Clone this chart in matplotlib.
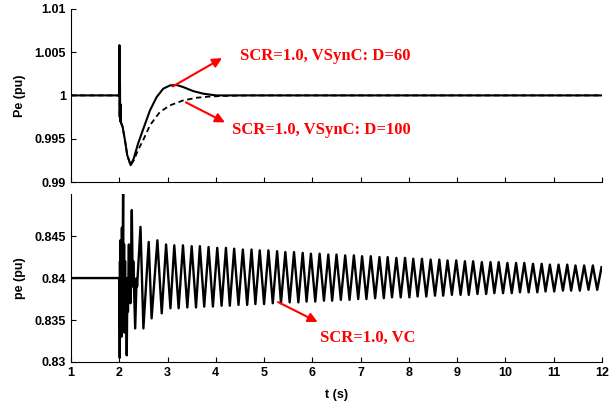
import numpy as np
import matplotlib.pyplot as plt

# top panel: Pe for VSynC, D=60 (solid) and D=100 (dashed)
t_d60 = [1.0, 2.0, 2.004, 2.01, 2.015, 2.02, 2.025, 2.03, 2.04, 2.07, 2.118, 2.166, 2.236, 2.30, 2.39, 2.50,
         2.636, 2.774, 2.91, 3.05, 3.19, 3.325, 3.53, 3.74, 4.0, 12.0]
pe_d60 = [1.0, 1.0, 1.0058, 0.9975, 1.0015, 0.9970, 0.9990, 0.9972, 0.9968, 0.99636, 0.99483, 0.9931, 0.99195,
          0.99272, 0.99445, 0.99617, 0.99827, 0.9998, 1.00077, 1.00115, 1.0012, 1.00096, 1.0005, 1.0002, 1.0, 1.0]

t_d100 = [1.0, 2.0, 2.004, 2.01, 2.015, 2.02, 2.025, 2.03, 2.04, 2.07, 2.118, 2.166, 2.236, 2.30, 2.39, 2.50,
          2.636, 2.84, 3.05, 3.325, 3.6, 3.9, 4.3, 4.7, 12.0]
pe_d100 = [1.0, 1.0, 1.0058, 0.9975, 1.0015, 0.9970, 0.9990, 0.9972, 0.9968, 0.99636, 0.99483, 0.9931, 0.99195,
           0.9925, 0.9937, 0.9949, 0.99655, 0.99808, 0.99885, 0.99942, 0.99973, 0.99988, 0.99996, 1.0, 1.0]

# bottom panel: pe for VC, fault transient then ~5.7 Hz oscillation
t_fault = [1.0, 2.0, 2.005, 2.01, 2.015, 2.02, 2.025, 2.03, 2.04, 2.045, 2.055, 2.065, 2.08, 2.09, 2.10,
           2.11, 2.12, 2.13, 2.14, 2.155, 2.17, 2.18, 2.20, 2.21, 2.22, 2.23, 2.26, 2.28, 2.29, 2.33,
           2.36, 2.37, 2.44, 2.50, 2.61, 2.67, 2.79, 2.88]
pe_fault = [0.84, 0.84, 0.8365, 0.8305, 0.8420, 0.8360, 0.8445, 0.8340, 0.8410, 0.8330, 0.8460, 0.8380,
            0.8501, 0.8370, 0.8440, 0.8335, 0.8420, 0.8350, 0.8400, 0.8308, 0.8400, 0.8360, 0.8440,
            0.8380, 0.8420, 0.8370, 0.8481, 0.8390, 0.8420, 0.8340, 0.8400, 0.8390, 0.8461, 0.8340,
            0.8443, 0.8352, 0.8445, 0.8358]

t_peak = [2.97, 3.14, 3.32, 3.50, 3.67, 3.85, 4.03, 4.21, 4.38, 4.56, 4.74, 4.91, 5.09, 5.27, 5.44,
          5.62, 5.80, 5.97, 6.15, 6.33, 6.50, 6.68, 6.86, 7.03, 7.21, 7.39, 7.56, 7.74, 7.92, 8.09,
          8.27, 8.45, 8.63, 8.80, 8.98, 9.16, 9.33, 9.51, 9.69, 9.86, 10.04, 10.22, 10.39, 10.57,
          10.75, 10.92, 11.10, 11.28, 11.45, 11.63, 11.81]
pe_peak = [0.8440, 0.8439, 0.8439, 0.8438, 0.8438, 0.8437, 0.8436, 0.8436, 0.8435, 0.8434, 0.8434,
           0.8433, 0.8433, 0.8432, 0.8431, 0.8431, 0.8430, 0.8429, 0.8429, 0.8428, 0.8428, 0.8427,
           0.8427, 0.8426, 0.8426, 0.8425, 0.8425, 0.8424, 0.8424, 0.8423, 0.8423, 0.8422, 0.8422,
           0.8421, 0.8421, 0.8420, 0.8420, 0.8419, 0.8419, 0.8419, 0.8418, 0.8418, 0.8418, 0.8417,
           0.8417, 0.8416, 0.8416, 0.8416, 0.8415, 0.8415, 0.8415]
t_trough = [3.06, 3.23, 3.41, 3.59, 3.76, 3.94, 4.12, 4.29, 4.47, 4.65, 4.82, 5.00, 5.18, 5.35, 5.53,
            5.71, 5.88, 6.06, 6.24, 6.41, 6.59, 6.77, 6.95, 7.12, 7.30, 7.48, 7.65, 7.83, 8.01, 8.18,
            8.36, 8.54, 8.71, 8.89, 9.07, 9.24, 9.42, 9.60, 9.77, 9.95, 10.13, 10.30, 10.48, 10.66,
            10.83, 11.01, 11.19, 11.36, 11.54, 11.72, 11.90]
pe_trough = [0.8364, 0.8364, 0.8365, 0.8365, 0.8366, 0.8366, 0.8367, 0.8367, 0.8368, 0.8368, 0.8369,
             0.8369, 0.8370, 0.8370, 0.8371, 0.8371, 0.8372, 0.8372, 0.8373, 0.8373, 0.8374, 0.8374,
             0.8375, 0.8375, 0.8376, 0.8376, 0.8377, 0.8377, 0.8377, 0.8378, 0.8378, 0.8379, 0.8379,
             0.8380, 0.8380, 0.8380, 0.8381, 0.8381, 0.8382, 0.8382, 0.8382, 0.8383, 0.8383, 0.8383,
             0.8384, 0.8384, 0.8385, 0.8385, 0.8385, 0.8386, 0.8386]
t_end = [11.99]
pe_end = [0.8413]

t_vc = np.concatenate([t_fault, np.column_stack([t_peak, t_trough]).ravel(), t_end])
pe_vc = np.concatenate([pe_fault, np.column_stack([pe_peak, pe_trough]).ravel(), pe_end])

xticks = list(range(1, 13))
top_yticks = [0.99, 0.995, 1.0, 1.005, 1.01]
top_ylabels = ['0.99', '0.995', '1', '1.005', '1.01']
bot_yticks = [0.83, 0.835, 0.84, 0.845]
bot_ylabels = ['0.83', '0.835', '0.84', '0.845']

plt.rcParams['font.family'] = ['Liberation Sans', 'DejaVu Sans']
plt.rcParams['font.weight'] = 'bold'

fig = plt.figure(figsize=(6.15, 4.13), dpi=100)
ax1 = fig.add_axes([0.1154, 0.559, 0.8635, 0.42])
ax2 = fig.add_axes([0.1154, 0.1235, 0.8635, 0.4065])

ax1.plot(t_d60, pe_d60, color='black', lw=1.5)
ax1.plot(t_d100, pe_d100, color='black', lw=1.3, linestyle=(0, (3, 2)))
ax2.plot(t_vc, pe_vc, color='black', lw=1.7)

for ax in (ax1, ax2):
    ax.set_xlim(1, 12)
    ax.set_xticks(xticks)
    ax.spines['top'].set_visible(False)
    ax.spines['right'].set_visible(False)
    ax.tick_params(direction='in', length=3.5, labelsize=9)
    for lab in ax.get_xticklabels() + ax.get_yticklabels():
        lab.set_fontweight('bold')

ax1.set_ylim(0.99, 1.01)
ax1.set_yticks(top_yticks)
ax1.set_yticklabels(top_ylabels, fontweight='bold')
ax1.set_xticklabels([])
ax1.set_ylabel('Pe (pu)', fontsize=9, fontweight='bold', labelpad=6)

ax2.set_ylim(0.83, 0.85)
ax2.set_yticks(bot_yticks)
ax2.set_yticklabels(bot_ylabels, fontweight='bold')
ax2.set_xticklabels([str(v) for v in xticks], fontweight='bold')
ax2.set_ylabel('pe (pu)', fontsize=9, fontweight='bold', labelpad=6)
ax2.set_xlabel('t (s)', fontsize=9, fontweight='bold', labelpad=7)

red_font = dict(color='red', fontsize=12, fontweight='bold', family=['Liberation Serif', 'DejaVu Serif'])
arrow = dict(arrowstyle='-|>', color='red', lw=1.5, mutation_scale=14, shrinkA=0, shrinkB=0)

ax1.annotate('', xy=(4.13, 1.0043), xytext=(3.11, 1.00104), arrowprops=arrow)
ax1.text(4.50, 1.00449, 'SCR=1.0, VSynC: D=60', va='center', ha='left', **red_font)
ax1.annotate('', xy=(4.19, 0.99689), xytext=(3.38, 0.9992), arrowprops=arrow)
ax1.text(4.33, 0.99597, 'SCR=1.0, VSynC: D=100', va='center', ha='left', **red_font)
ax2.annotate('', xy=(6.11, 0.83476), xytext=(5.29, 0.83714), arrowprops=arrow)
ax2.text(6.155, 0.83286, 'SCR=1.0, VC', va='center', ha='left', **red_font)

fig.savefig('out.png', dpi=100)
